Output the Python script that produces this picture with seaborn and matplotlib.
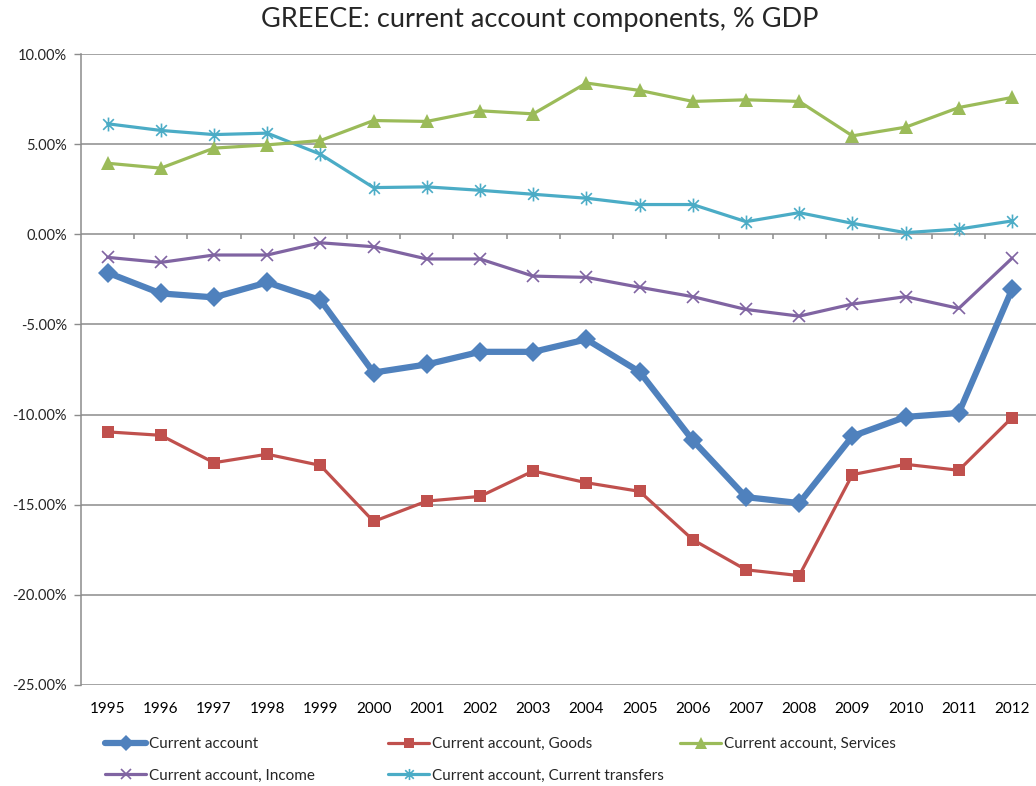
import numpy as np
import pandas as pd
import matplotlib
matplotlib.use("Agg")
import matplotlib.pyplot as plt
import seaborn as sns
from matplotlib.path import Path
from matplotlib.ticker import FuncFormatter

years = list(range(1995, 2013))
current_account = [-2.13, -3.28, -3.50, -2.67, -3.65, -7.67, -7.22, -6.52, -6.52,
                   -5.83, -7.63, -11.43, -14.58, -14.91, -11.20, -10.13, -9.91, -3.06]
goods = [-10.96, -11.15, -12.67, -12.20, -12.82, -15.93, -14.80, -14.54, -13.13,
         -13.78, -14.26, -16.94, -18.61, -18.93, -13.33, -12.76, -13.09, -10.17]
services = [3.94, 3.67, 4.78, 4.96, 5.20, 6.31, 6.26, 6.85, 6.68,
            8.39, 7.98, 7.37, 7.46, 7.37, 5.46, 5.94, 7.03, 7.59]
income = [-1.28, -1.56, -1.15, -1.15, -0.47, -0.69, -1.37, -1.37, -2.32,
          -2.39, -2.94, -3.46, -4.17, -4.54, -3.87, -3.46, -4.11, -1.33]
transfers = [6.13, 5.76, 5.53, 5.61, 4.44, 2.59, 2.63, 2.44, 2.22,
             2.00, 1.65, 1.65, 0.70, 1.20, 0.61, 0.09, 0.29, 0.74]
series_names = ["Current account", "Current account, Goods", "Current account, Services",
                "Current account, Income", "Current account, Current transfers"]
y_ticks = [10, 5, 0, -5, -10, -15, -20, -25]

sns.set_theme(style="white")
plt.rcParams['font.family'] = ['Lato', 'DejaVu Sans']

# asterisk-like marker (Excel "star")
star = Path([(-1, -1), (1, 1), (-1, 1), (1, -1), (0, -1.3), (0, 1.3)],
            [Path.MOVETO, Path.LINETO, Path.MOVETO, Path.LINETO, Path.MOVETO, Path.LINETO])

styles = [
    dict(color="#4F81BD", marker="D", lw=4.5, ms=10, mew=0),
    dict(color="#C0504D", marker="s", lw=2.3, ms=9, mew=0),
    dict(color="#9BBB59", marker="^", lw=2.3, ms=10, mew=0),
    dict(color="#8064A2", marker="x", lw=2.3, ms=9, mew=1.2),
    dict(color="#4BACC6", marker=star, lw=2.3, ms=10, mew=1.2),
]
data = [current_account, goods, services, income, transfers]

W, H = 1036, 786
fig = plt.figure(figsize=(W / 100, H / 100), dpi=100)
ax = fig.add_axes([81 / W, 1 - 685 / H, (1038.6 - 81) / W, (685 - 54) / H])

grid_c = "#8C8C8C"
for v in y_ticks:
    ax.axhline(v, color=grid_c, lw=1.1, zorder=0)

# category axis crossing at 0: tick marks between categories, pointing down (5 px)
px_per_unit = (685 - 54) / 35.0
tick_len = 5 / px_per_unit
ax.vlines([y + 0.5 for y in years[:-1]], -tick_len, 0, color=grid_c, lw=1.1, zorder=1)

order = [3, 4, 2, 1, 0]  # draw thick blue on top
for i in order:
    st = styles[i]
    df = pd.DataFrame({"year": years, "value": data[i]})
    sns.lineplot(data=df, x="year", y="value", ax=ax, color=st["color"], lw=st["lw"],
                 marker=st["marker"], markersize=st["ms"], markeredgewidth=st["mew"],
                 markeredgecolor=st["color"], markerfacecolor=st["color"], zorder=3 + (5 - i))

ax.set_xlim(1994.5, 2012.5)
ax.set_ylim(-25, 10)
ax.set_xlabel("")
ax.set_ylabel("")
ax.set_yticks(y_ticks)
ax.yaxis.set_major_formatter(FuncFormatter(lambda v, p: f"{v:.2f}%"))
ax.set_xticks(years)
ax.set_xticklabels([str(y) for y in years])
ax.tick_params(axis="x", length=0, pad=12, labelsize=11, colors="black")
ax.tick_params(axis="y", length=5, width=1, color=grid_c, pad=5, labelsize=10.5, left=True)
for s in ["top", "right", "bottom"]:
    ax.spines[s].set_visible(False)
ax.spines["left"].set_color(grid_c)
ax.spines["left"].set_linewidth(1.1)

fig.text(540 / W, 1 - 19 / H, "GREECE: current account components, % GDP",
         ha="center", va="center", fontsize=19.5)

def proxy(i):
    st = styles[i]
    return plt.Line2D([], [], color=st["color"], lw=st["lw"], marker=st["marker"],
                      markersize=st["ms"] * 0.8, markeredgewidth=st["mew"],
                      markerfacecolor=st["color"], markeredgecolor=st["color"])

cols = [([0, 3], 105), ([1, 4], 388), ([2], 680)]
for idx, x0 in cols:
    fig.legend([proxy(i) for i in idx], [series_names[i] for i in idx],
               loc="upper left", bbox_to_anchor=(x0 / W, 1 - 737 / H),
               frameon=False, borderpad=0, borderaxespad=0, handlelength=2.7,
               handletextpad=0.15, labelspacing=1.15, fontsize=11, numpoints=1)

fig.savefig("out.png", dpi=100)
